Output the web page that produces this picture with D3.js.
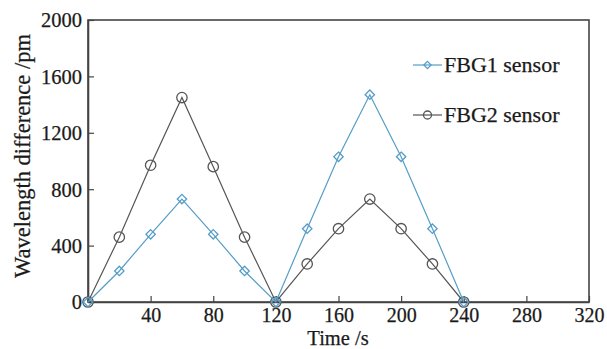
<!DOCTYPE html>
<html lang="en">
<head>
  <meta charset="UTF-8" />
  <title>FBG wavelength difference</title>
  <script src="https://d3js.org/d3.v7.min.js"></script>
  <style>
    body { margin: 0; padding: 0; background: #fff; }
    svg { display: block; }
    text { font-family: "Times New Roman", Times, "Liberation Serif", serif; fill: #1a1a1a; stroke: #1a1a1a; stroke-width: 0.25; }
  </style>
</head>
<body>
  <svg id="chart" width="607" height="349"></svg>
  <script>
    const times = [0, 20, 40, 60, 80, 100, 120, 140, 160, 180, 200, 220, 240];
    const fbg1 = [0, 220, 480, 730, 480, 220, 0, 520, 1030, 1470, 1030, 520, 0];
    const fbg2 = [0, 460, 970, 1450, 960, 460, 0, 270, 520, 730, 520, 270, 0];
    const xTicks = [40, 80, 120, 160, 200, 240, 280, 320];
    const yTicks = [0, 400, 800, 1200, 1600, 2000];
    const seriesNames = ["FBG1 sensor", "FBG2 sensor"];

    const svg = d3.select("#chart");
    const plotL = 88, plotR = 589, plotT = 20, plotB = 302;
    const x = d3.scaleLinear().domain([0, 320]).range([plotL, plotR]);
    const y = d3.scaleLinear().domain([0, 2000]).range([plotB, plotT]);

    const blue = "#559dc8", gray = "#555";
    const serif = '"Times New Roman", Times, "Liberation Serif", serif';

    // frame
    svg.append("rect")
      .attr("x", plotL).attr("y", plotT)
      .attr("width", plotR - plotL).attr("height", plotB - plotT)
      .attr("fill", "none").attr("stroke", "#444").attr("stroke-width", 1.6);

    const xAxis = svg.append("g")
      .attr("transform", `translate(0,${plotB})`)
      .call(d3.axisBottom(x).tickValues(xTicks).tickFormat(d3.format("d"))
        .tickSizeInner(-6).tickSizeOuter(0).tickPadding(5.5));
    const yAxis = svg.append("g")
      .attr("transform", `translate(${plotL},0)`)
      .call(d3.axisLeft(y).tickValues(yTicks).tickFormat(d3.format("d"))
        .tickSizeInner(-6).tickSizeOuter(0).tickPadding(6));
    [xAxis, yAxis].forEach(a => {
      a.attr("font-family", serif);
      a.select(".domain").attr("stroke", "#444").attr("stroke-width", 1.6);
      a.selectAll(".tick line").attr("stroke", "#444").attr("stroke-width", 1.2);
      a.selectAll("text").attr("font-size", 20.5).attr("fill", "#1a1a1a");
    });
    xAxis.selectAll("text").attr("font-size", 20);
    yAxis.selectAll("text").attr("dy", "0.34em");

    svg.append("text")
      .attr("x", 338).attr("y", 344.5)
      .attr("text-anchor", "middle").attr("font-size", 20.5)
      .text("Time /s");
    svg.append("text")
      .attr("transform", "translate(30,156) rotate(-90)")
      .attr("text-anchor", "middle").attr("font-size", 22.5)
      .text("Wavelength difference /pm");

    const line = d3.line().x((d, i) => x(times[i])).y(d => y(d));

    function diamond(g, cx, cy, s, color) {
      g.append("path")
        .attr("d", `M${cx},${cy - s}L${cx + s},${cy}L${cx},${cy + s}L${cx - s},${cy}Z`)
        .attr("fill", "none").attr("stroke", color).attr("stroke-width", 1.3);
    }
    function circle(g, cx, cy, r, color) {
      g.append("circle")
        .attr("cx", cx).attr("cy", cy).attr("r", r)
        .attr("fill", "none").attr("stroke", color).attr("stroke-width", 1.3);
    }

    // FBG2 first, FBG1 on top
    svg.append("path").datum(fbg2)
      .attr("d", line).attr("fill", "none").attr("stroke", gray).attr("stroke-width", 1.2);
    const g2 = svg.append("g");
    fbg2.forEach((v, i) => circle(g2, x(times[i]), y(v), 5.2, gray));

    svg.append("path").datum(fbg1)
      .attr("d", line).attr("fill", "none").attr("stroke", blue).attr("stroke-width", 1.2);
    const g1 = svg.append("g");
    fbg1.forEach((v, i) => diamond(g1, x(times[i]), y(v), 4.7, blue));

    // legend
    const legend = svg.append("g");
    const ly = [65, 115];
    [blue, gray].forEach((c, i) => {
      legend.append("line")
        .attr("x1", 413).attr("x2", 442).attr("y1", ly[i]).attr("y2", ly[i])
        .attr("stroke", c).attr("stroke-width", 1.2);
      if (i === 0) diamond(legend, 427.5, ly[i], 3.6, c);
      else circle(legend, 427.5, ly[i], 4, c);
      legend.append("text")
        .attr("x", 444).attr("y", ly[i]).attr("dy", "0.34em")
        .attr("font-size", 22)
        .text(seriesNames[i]);
    });
  </script>
</body>
</html>
